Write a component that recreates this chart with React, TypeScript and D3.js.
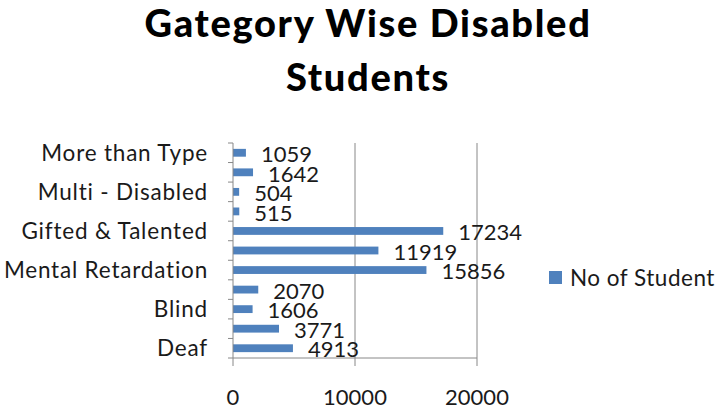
import React, { useEffect, useRef } from "react";
import * as d3 from "d3";

const categories = [
  "More than Type",
  "Autism",
  "Multi - Disabled",
  "Learning Disabled",
  "Gifted & Talented",
  "Orthopedic",
  "Mental Retardation",
  "Low Vision",
  "Blind",
  "Dumb",
  "Deaf",
];
const values = [1059, 1642, 504, 515, 17234, 11919, 15856, 2070, 1606, 3771, 4913];
const shownLabels = ["More than Type", "Multi - Disabled", "Gifted & Talented", "Mental Retardation", "Blind", "Deaf"];
const xTicks = [0, 10000, 20000];
const seriesName = "No of Student";
const titleLines = ["Gategory Wise Disabled", "Students"];

const W = 716;
const H = 412;
const FONT = "Lato, 'Open Sans', sans-serif";
const BAR = "#4F81BD";
const TEXT = "#1a1a1a";
const GRID = "#888888";

export default function App() {
  const ref = useRef<SVGSVGElement | null>(null);
  useEffect(() => {
    const svg = d3.select(ref.current);
    svg.selectAll("*").remove();

    const x = d3.scaleLinear().domain([0, 20000]).range([233, 477]);
    const y = d3
      .scaleBand<string>()
      .domain(categories)
      .range([143, 358])
      .paddingInner(0.6)
      .paddingOuter(0.3);
    const step = y.step();

    // title
    svg
      .append("g")
      .selectAll("text")
      .data(titleLines)
      .join("text")
      .attr("x", 368)
      .attr("y", (_d, i) => 37 + i * 54)
      .attr("text-anchor", "middle")
      .attr("font-family", FONT)
      .attr("font-weight", 900)
      .attr("font-size", 38)
      .attr("letter-spacing", 1.7)
      .attr("fill", "#000")
      .text((d) => d);

    // gridlines
    svg
      .append("g")
      .selectAll("line")
      .data(xTicks.slice(1))
      .join("line")
      .attr("x1", (d) => x(d))
      .attr("x2", (d) => x(d))
      .attr("y1", 143)
      .attr("y2", 358)
      .attr("stroke", GRID)
      .attr("stroke-width", 1);

    // bars
    svg
      .append("g")
      .selectAll("rect")
      .data(categories)
      .join("rect")
      .attr("x", x(0))
      .attr("y", (d) => y(d)!)
      .attr("width", (_d, i) => x(values[i]) - x(0))
      .attr("height", y.bandwidth())
      .attr("fill", BAR);

    // y axis line + ticks
    const ya = svg.append("g");
    ya.append("line")
      .attr("x1", x(0))
      .attr("x2", x(0))
      .attr("y1", 143)
      .attr("y2", 358)
      .attr("stroke", GRID);
    const bounds = d3.range(categories.length + 1).map((i) => 143 + i * step);
    ya.selectAll("line.t")
      .data(bounds)
      .join("line")
      .attr("class", "t")
      .attr("x1", x(0) - 5)
      .attr("x2", x(0))
      .attr("y1", (d) => d)
      .attr("y2", (d) => d)
      .attr("stroke", GRID);
    ya.selectAll("text")
      .data(categories.filter((c) => shownLabels.includes(c)))
      .join("text")
      .attr("x", 208)
      .attr("y", (d) => y(d)! + y.bandwidth() / 2)
      .attr("dy", "0.35em")
      .attr("text-anchor", "end")
      .attr("font-family", FONT)
      .attr("font-size", 22.5)
      .attr("letter-spacing", 0.8)
      .attr("fill", TEXT)
      .text((d) => d);

    // x axis
    const xa = svg.append("g");
    xa.append("line")
      .attr("x1", x(0))
      .attr("x2", x(20000))
      .attr("y1", 358)
      .attr("y2", 358)
      .attr("stroke", GRID);
    xa.selectAll("line.t")
      .data(xTicks)
      .join("line")
      .attr("class", "t")
      .attr("x1", (d) => x(d))
      .attr("x2", (d) => x(d))
      .attr("y1", 358)
      .attr("y2", 366)
      .attr("stroke", GRID);
    xa.selectAll("text")
      .data(xTicks)
      .join("text")
      .attr("x", (d) => x(d))
      .attr("y", 405)
      .attr("text-anchor", "middle")
      .attr("font-family", FONT)
      .attr("font-size", 22)
      .attr("fill", TEXT)
      .text((d) => String(d));

    // data labels
    svg
      .append("g")
      .selectAll("text")
      .data(categories)
      .join("text")
      .attr("x", (_d, i) => x(values[i]) + 15)
      .attr("y", (d) => y(d)! + y.bandwidth() / 2 + 1.5)
      .attr("dy", "0.35em")
      .attr("font-family", FONT)
      .attr("font-size", 22)
      .attr("fill", TEXT)
      .text((_d, i) => String(values[i]));

    // legend
    const lg = svg.append("g");
    lg.append("rect")
      .attr("x", 549)
      .attr("y", 271)
      .attr("width", 13)
      .attr("height", 13)
      .attr("fill", BAR);
    lg.append("text")
      .attr("x", 570)
      .attr("y", 278)
      .attr("dy", "0.35em")
      .attr("font-family", FONT)
      .attr("font-size", 22.5)
      .attr("letter-spacing", 0.5)
      .attr("fill", TEXT)
      .text(seriesName);
  }, []);

  return (
    <svg
      ref={ref}
      width={W}
      height={H}
      style={{ position: "absolute", left: 0, top: 0, display: "block", background: "#fff" }}
    />
  );
}
